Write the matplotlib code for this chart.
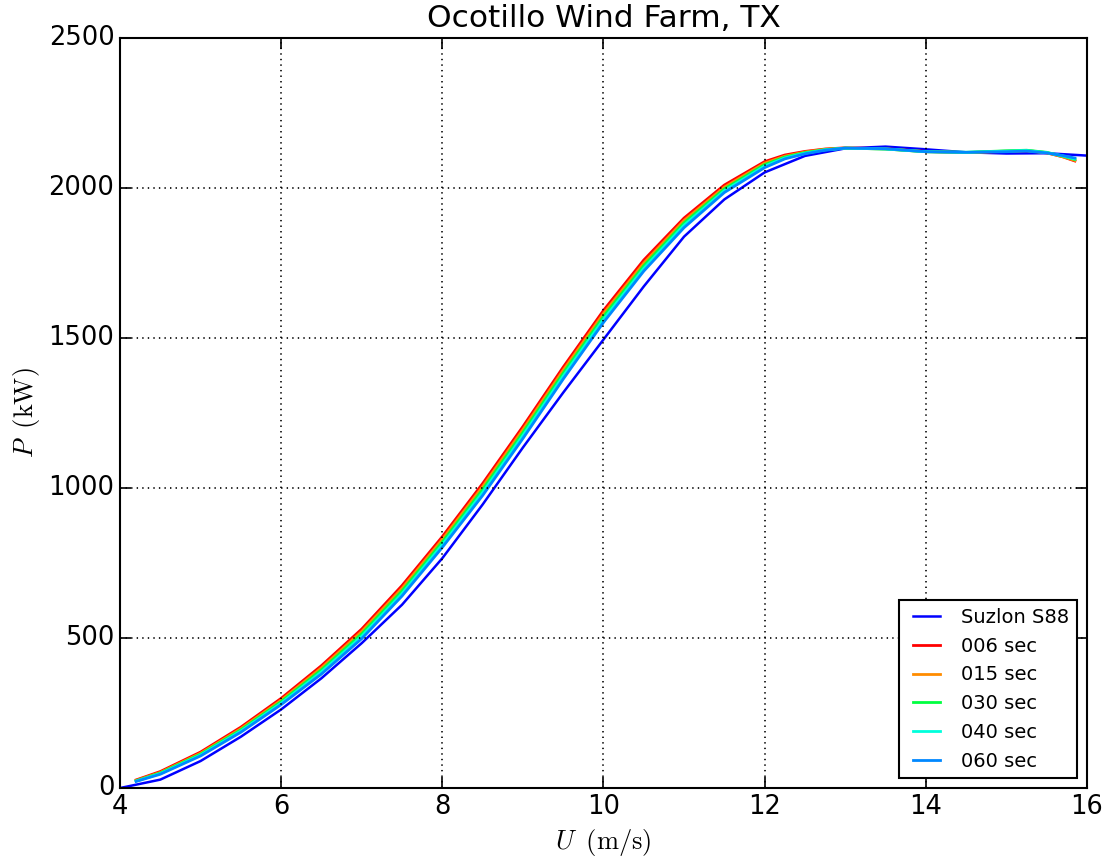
import numpy as np
import matplotlib
matplotlib.use('Agg')
import matplotlib.pyplot as plt

plt.style.use('classic')
plt.rcParams['mathtext.fontset'] = 'cm'

# Suzlon S88 reference power curve
u_ref = [4.0, 4.5, 5.0, 5.5, 6.0, 6.5, 7.0, 7.5, 8.0, 8.5, 9.0, 9.5, 10.0,
         10.5, 11.0, 11.5, 12.0, 12.5, 13.0, 13.5, 14.0, 14.5, 15.0, 15.5, 16.0]
p_ref = [0, 28, 90, 171, 262, 366, 483, 611, 766, 945, 1135, 1318, 1495,
         1672, 1838, 1962, 2052, 2107, 2132, 2138, 2129, 2119, 2115, 2116, 2108]

# measured curves for different averaging windows
u_meas = [4.2, 4.5, 5.0, 5.5, 6.0, 6.5, 7.0, 7.5, 8.0, 8.5, 9.0, 9.5, 10.0, 10.5,
          11.0, 11.5, 12.0, 12.25, 12.5, 12.75, 13.0, 13.5, 14.0, 14.5, 15.0,
          15.25, 15.5, 15.7, 15.85]
p_006 = [27, 55, 120, 203, 299, 408, 530, 675, 838, 1015, 1205, 1403, 1592, 1760,
         1900, 2010, 2088, 2110, 2122, 2130, 2134, 2131, 2122, 2118, 2122,
         2124, 2117, 2104, 2090]
p_015 = [25, 52, 116, 198, 293, 401, 522, 666, 829, 1005, 1195, 1393, 1582, 1750,
         1892, 2003, 2083, 2106, 2120, 2129, 2133, 2130, 2121, 2118, 2123,
         2125, 2118, 2104, 2092]
p_030 = [24, 50, 113, 194, 288, 394, 514, 657, 820, 995, 1185, 1383, 1572, 1741,
         1884, 1997, 2078, 2103, 2118, 2128, 2133, 2130, 2121, 2119, 2124,
         2126, 2119, 2106, 2095]
p_040 = [23, 48, 110, 190, 283, 387, 506, 648, 811, 985, 1175, 1373, 1562, 1732,
         1876, 1991, 2073, 2100, 2116, 2127, 2133, 2130, 2121, 2119, 2123,
         2125, 2118, 2107, 2097]
p_060 = [22, 46, 107, 186, 278, 380, 498, 640, 802, 975, 1165, 1363, 1552, 1723,
         1868, 1985, 2068, 2097, 2114, 2126, 2133, 2131, 2121, 2119, 2121,
         2123, 2117, 2108, 2100]

labels = ['006 sec', '015 sec', '030 sec', '040 sec', '060 sec']
series = [p_006, p_015, p_030, p_040, p_060]
colors = ['#ff0000', '#ff8c00', '#00ff40', '#00ffdc', '#0088ff']

fig = plt.figure(figsize=(11.05, 8.56), dpi=100, facecolor='white')
ax = fig.add_axes([0.1086, 0.0794, 0.8751, 0.8762])

ax.plot(u_ref, p_ref, color='#0000ff', lw=1.8, label='Suzlon S88')
for p, c, lab in zip(series, colors, labels):
    ax.plot(u_meas, p, color=c, lw=2.0, label=lab)

ax.set_xlim(4, 16)
ax.set_ylim(0, 2500)
ax.set_xticks(np.arange(4, 17, 2))
ax.set_yticks(np.arange(0, 2501, 500))
ax.tick_params(labelsize=18.5, width=1.2, length=8)
for s in ax.spines.values():
    s.set_linewidth(1.5)
ax.grid(True, color='black', linestyle=':', linewidth=1.2)

ax.set_xlabel(r'$U\;\;\mathrm{(m/s)}$', fontsize=19)
ax.set_ylabel(r'$P\;\;\mathrm{(kW)}$', fontsize=19)
ax.set_title('Ocotillo Wind Farm, TX', fontsize=22.5, y=1.005)

leg = ax.legend(loc='lower right', fontsize=14, borderaxespad=0.5)
leg.get_frame().set_linewidth(1.5)

fig.savefig('out.png', dpi=100, facecolor='white')
